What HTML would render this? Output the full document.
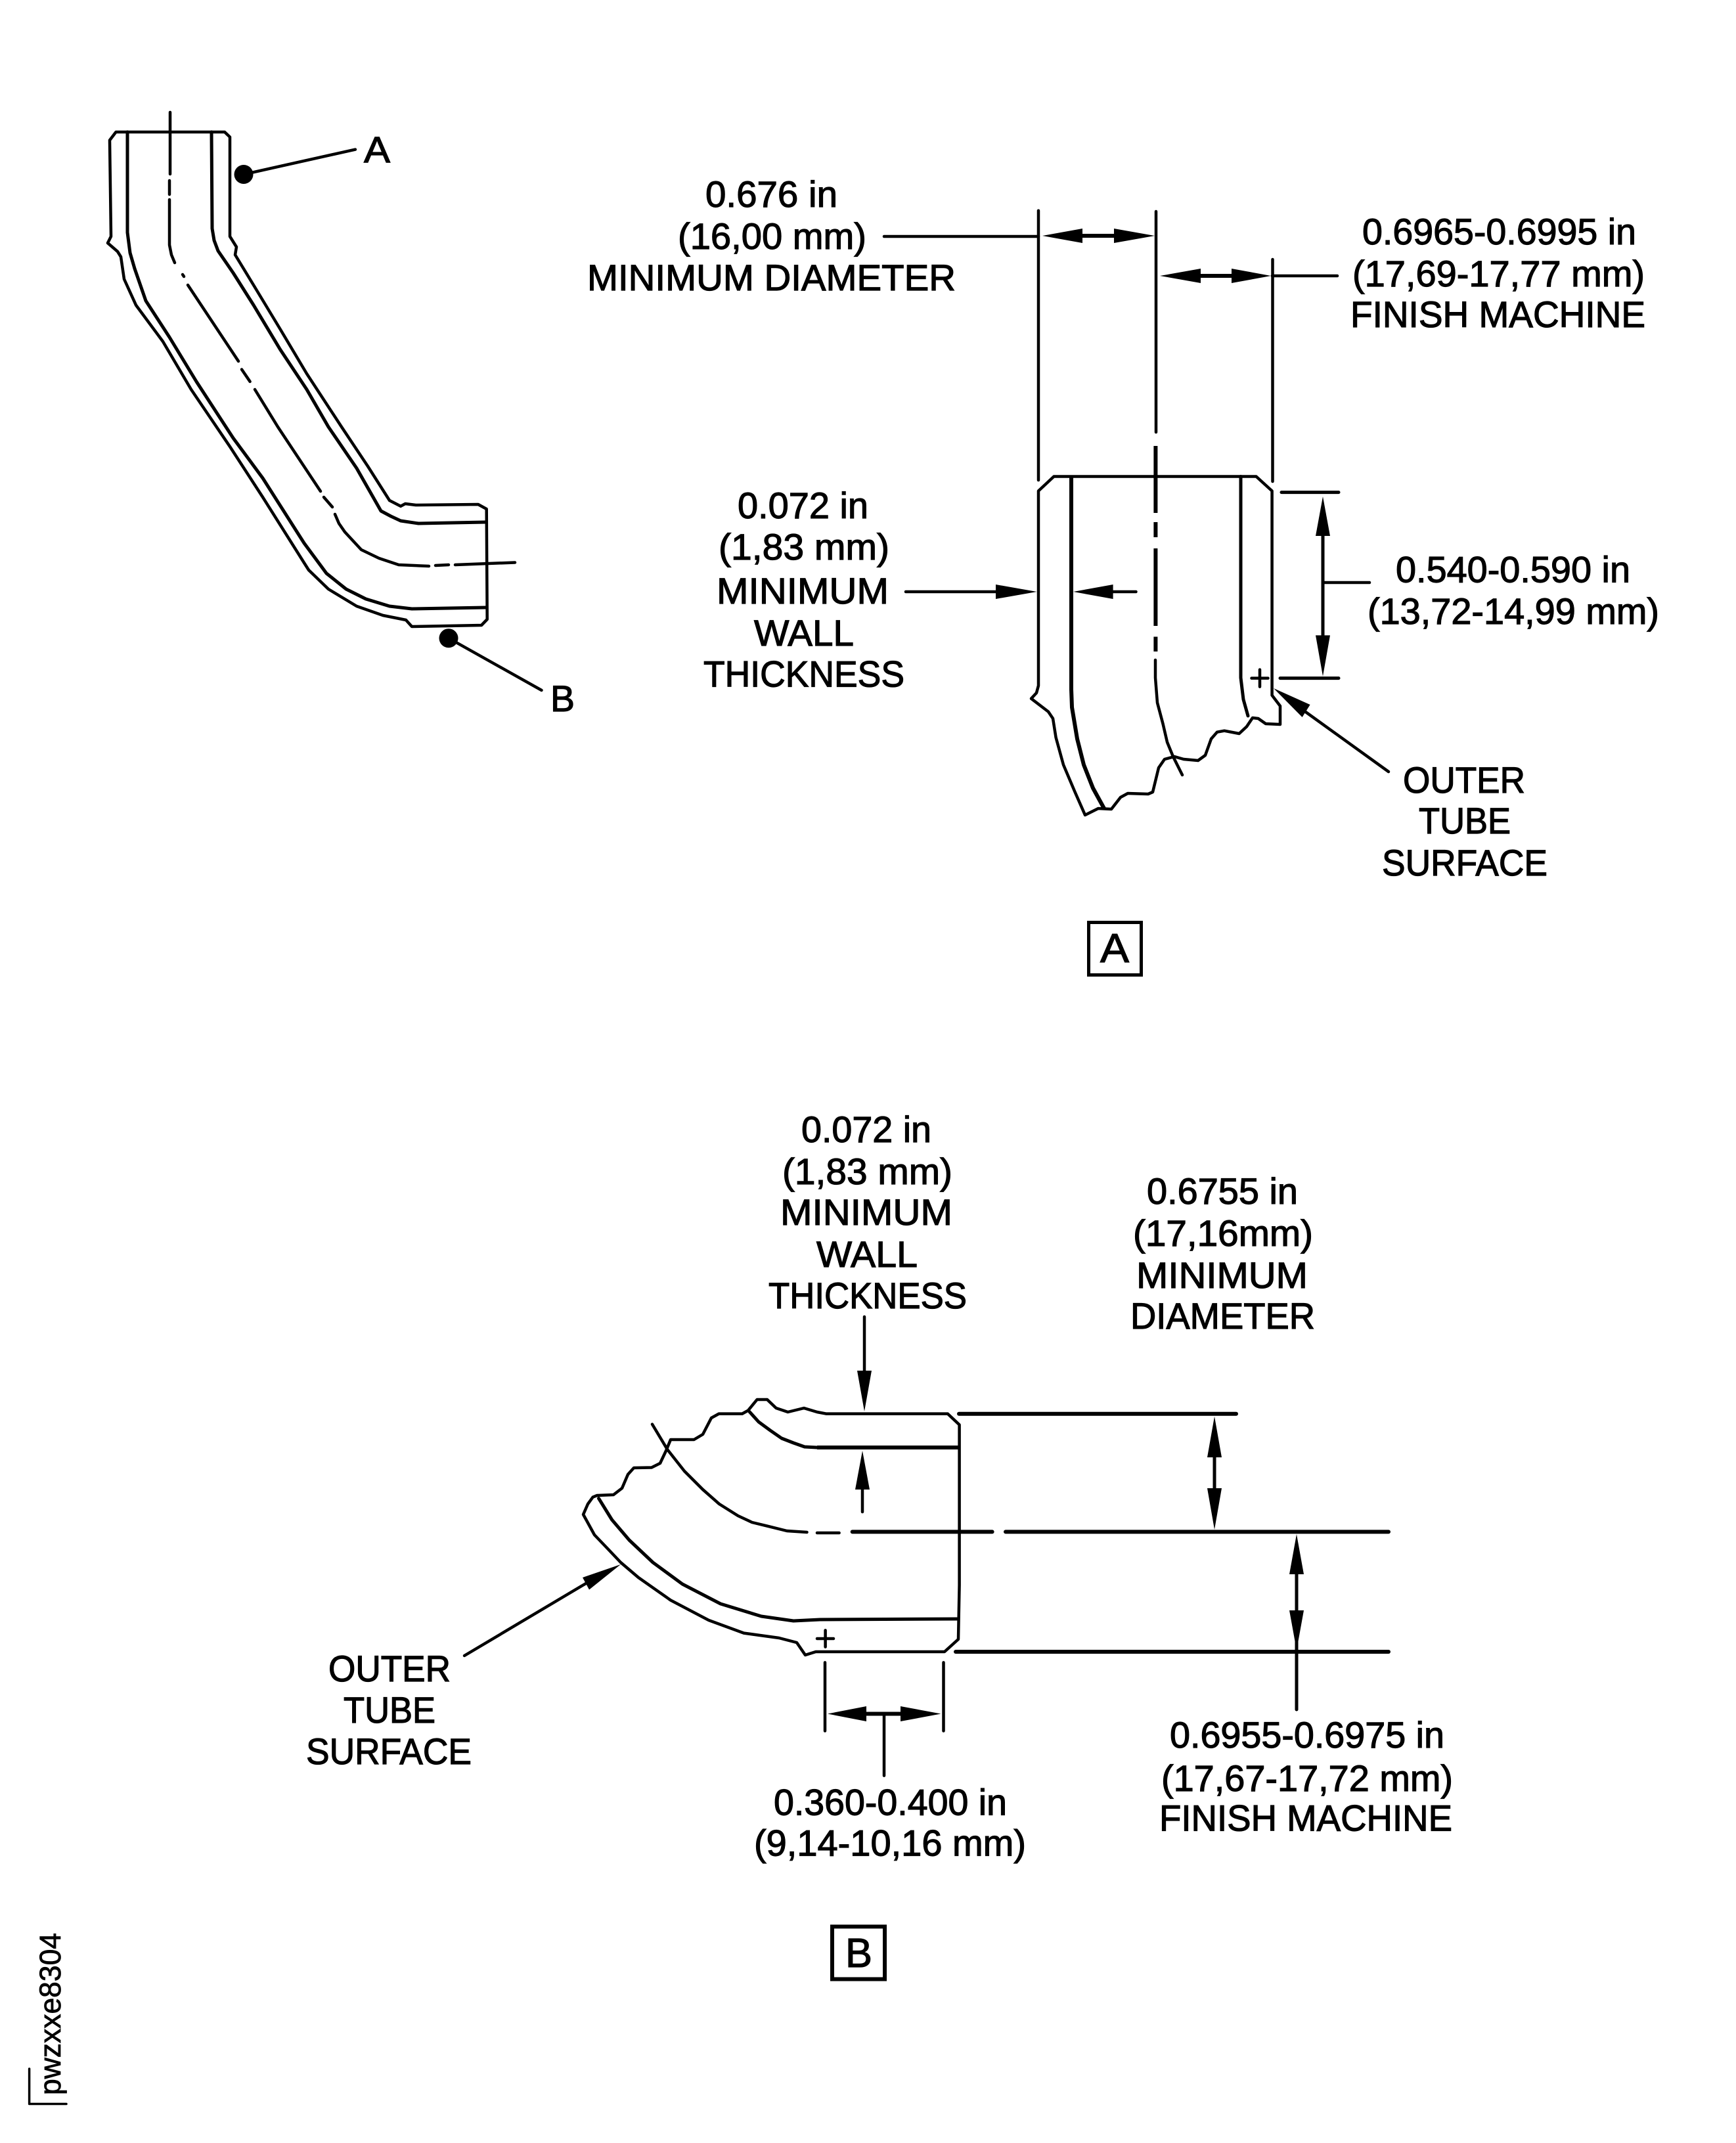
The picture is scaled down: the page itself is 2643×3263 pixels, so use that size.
<!DOCTYPE html>
<html>
<head>
<meta charset="utf-8">
<style>
html,body{margin:0;padding:0;background:#fff}
svg{display:block}
text{font-family:"Liberation Sans",sans-serif;font-size:56px;fill:#000;stroke:#000;stroke-width:1.2}
.l{fill:none;stroke:#000;stroke-width:4.5;stroke-linejoin:round;stroke-linecap:round}
.c{fill:none;stroke:#000;stroke-width:5;stroke-linejoin:round;stroke-linecap:round}
.t{fill:none;stroke:#000;stroke-width:6;stroke-linejoin:round;stroke-linecap:butt}
polygon{fill:#000}
</style>
</head>
<body>
<svg xmlns="http://www.w3.org/2000/svg" width="2643" height="3263" viewBox="0 0 2643 3263">
<rect width="2643" height="3263" fill="#fff"/>

<!-- Overview tube -->
<path class="l" d="M176.5,201 L342,201 L350,208.6 L350,360 L360,376 L358,388 L386,434 L426.5,501 L467,569 L520,650 L560,710 L593,762 L610,770.7 L617,767 L633,769 L728,768 L740.7,775 L741.7,943 L733,952 L627,954 L618,944 L583,937 L543,923 L500,897 L470,868 L463,857 L400,757 L350,680 L291,593 L248,520 L207,464.6 L189,425 L184,391 L179,383 L164,370 L169,360 L167,213.5 Z"/>
<path class="c" d="M194,201 L194,354 L198,385 L205,409 L222,458 L258,513.5 L299,581 L355,667 L400,728 L463,827 L497,873 L527,897 L557,912 L593,923 L627,927 L740,925"/>
<path class="c" d="M322,201 L323,348 L326,366 L332,382 L355,415.5 L386,464.5 L426.5,532 L467,593 L500,650 L543,713 L580,778 L595,786 L610,793 L637,797 L740,795"/>
<path class="l" d="M259,171 L259,265 M258,275 L258,296 M258,304 L258,373 L261,388 L266,400"/>
<path class="l" d="M278,418 L280,421 M286,434 L363,550 M368,562.5 L380.6,581 M388,593 L423,650 L488,748 M493,757 L506,772"/>
<path class="l" d="M510,783 L516,797 L525,810 L550,837 L577,850 L607,860 L653,862 M663,861 L683,860 M693,860 L784,856.5"/>
<circle cx="371" cy="265.5" r="14.5"/>
<line class="l" x1="371" y1="265.5" x2="541" y2="227.6"/>
<circle cx="683" cy="971.7" r="14.5"/>
<line class="l" x1="683" y1="971.7" x2="824.5" y2="1051"/>
<text x="554" y="247" textLength="40" lengthAdjust="spacingAndGlyphs">A</text>
<text x="838" y="1083" textLength="37" lengthAdjust="spacingAndGlyphs">B</text>

<!-- Detail A -->
<path class="l" d="M1604.5,725.5 L1912.5,725.5 L1936.6,747.5 L1936.6,1058.7 L1949,1075 L1949,1103 L1927,1102 L1915.6,1094 L1907,1093 L1898,1106.4 L1886.6,1117 L1864,1112.7 L1853,1114.7 L1844,1125 L1835,1150 L1824,1158 L1802,1156 L1788,1152 L1773,1156 L1764,1169 L1755,1206 L1748,1209 L1717,1208 L1706,1214 L1692,1232 L1672,1231 L1652,1241 L1636.6,1206 L1619,1164.5 L1607.6,1123 L1603,1094 L1596,1083.6 L1570,1063.7 L1578,1055 L1581,1044 L1581,747.5 Z"/>
<path class="t" d="M1631,725.5 L1631,1023.5 L1631,1050 L1632,1077 L1640,1125 L1650,1164.5 L1664,1200 L1681,1231"/>
<path class="c" d="M1889,725.5 L1889,1032 L1893,1065 L1900,1090"/>
<path class="l" style="stroke-width:6;stroke-linecap:butt" d="M1759.4,679 V781 M1759.4,795 V818 M1759.4,835 V953 M1759.4,969.5 V992"/>
<path class="l" d="M1759,1005 V1032 L1762,1070 L1770.5,1102 L1777,1130 L1786,1152 L1800,1180"/>
<path class="l" d="M1918,1019.6 V1045.6 M1905.5,1032.6 H1930.5"/>
<line class="l" x1="1581" y1="320.7" x2="1581" y2="731"/>
<line class="l" x1="1937.5" y1="395" x2="1937.5" y2="733"/>
<line class="l" x1="1760" y1="322" x2="1760" y2="658"/>
<line class="l" x1="1346" y1="360" x2="1581" y2="360"/>
<line class="l" style="stroke-width:6" x1="1640" y1="359" x2="1700" y2="359"/>
<polygon points="1587,359 1648,348 1648,370"/>
<polygon points="1758,359 1696,348 1696,370"/>
<line class="l" x1="1937" y1="420" x2="2036" y2="420"/>
<line class="l" style="stroke-width:6" x1="1820" y1="420" x2="1880" y2="420"/>
<polygon points="1766,420 1828,409 1828,431"/>
<polygon points="1935,420 1875,409 1875,431"/>
<line class="l" x1="1379" y1="901" x2="1520" y2="901"/>
<polygon points="1578.6,901 1516,890 1516,912"/>
<line class="l" x1="1690" y1="901" x2="1729.5" y2="901"/>
<polygon points="1634,901 1694.6,890 1694.6,912"/>
<line class="l" style="stroke-width:5" x1="1951" y1="749.6" x2="2038" y2="749.6"/>
<line class="l" style="stroke-width:5" x1="1949" y1="1032.6" x2="2038" y2="1032.6"/>
<line class="l" style="stroke-width:5" x1="2014" y1="810" x2="2014" y2="975"/>
<polygon points="2014,756 2003,816 2025,816"/>
<polygon points="2014,1029.7 2003,967.4 2025,967.4"/>
<line class="l" x1="2014" y1="887" x2="2085" y2="887"/>
<line class="l" x1="1985" y1="1082" x2="2114" y2="1175"/>
<polygon points="1939,1048 1994.6,1073 1982.6,1092"/>

<text x="1074" y="315" textLength="201" lengthAdjust="spacingAndGlyphs">0.676 in</text>
<text x="1032" y="379" textLength="287" lengthAdjust="spacingAndGlyphs">(16,00 mm)</text>
<text x="894" y="442" textLength="561" lengthAdjust="spacingAndGlyphs">MINIMUM DIAMETER</text>
<text x="2074" y="372" textLength="417" lengthAdjust="spacingAndGlyphs">0.6965-0.6995 in</text>
<text x="2059" y="436" textLength="445" lengthAdjust="spacingAndGlyphs">(17,69-17,77 mm)</text>
<text x="2056" y="498" textLength="449" lengthAdjust="spacingAndGlyphs">FINISH MACHINE</text>
<text x="1123" y="789" textLength="199" lengthAdjust="spacingAndGlyphs">0.072 in</text>
<text x="1094" y="852" textLength="260" lengthAdjust="spacingAndGlyphs">(1,83 mm)</text>
<text x="1091" y="919" textLength="262" lengthAdjust="spacingAndGlyphs">MINIMUM</text>
<text x="1148" y="983" textLength="152" lengthAdjust="spacingAndGlyphs">WALL</text>
<text x="1071" y="1045.5" textLength="306" lengthAdjust="spacingAndGlyphs">THICKNESS</text>
<text x="2125" y="886.5" textLength="357" lengthAdjust="spacingAndGlyphs">0.540-0.590 in</text>
<text x="2082" y="950" textLength="444" lengthAdjust="spacingAndGlyphs">(13,72-14,99 mm)</text>
<text x="2136" y="1207" textLength="186" lengthAdjust="spacingAndGlyphs">OUTER</text>
<text x="2160" y="1269" textLength="140" lengthAdjust="spacingAndGlyphs">TUBE</text>
<text x="2104" y="1333" textLength="252" lengthAdjust="spacingAndGlyphs">SURFACE</text>
<rect x="1657.5" y="1404.5" width="80" height="80" fill="none" stroke="#000" stroke-width="5"/>
<text x="1675" y="1465" textLength="44" lengthAdjust="spacingAndGlyphs" style="font-size:62px">A</text>

<!-- Detail B -->
<path class="l" d="M1442.8,2152.6 L1460.6,2169.4 L1460.6,2413.6 L1459,2496 L1438,2515 L1242,2515 L1226,2520 L1213,2501 L1186,2494 L1132.5,2486.6 L1079,2467 L1021,2436.5 L972,2402 L945,2379 L927,2360 L905,2337 L888,2306 L895,2290 L902.6,2279.6 L909,2277 L934,2276 L947,2266 L956,2245 L965,2235 L992,2234.5 L1005,2228 L1014,2209 L1021,2192 L1056.6,2192 L1070,2184 L1083,2159 L1094.5,2152.6 L1130,2152.6 L1139,2147.6 L1152.6,2131 L1168,2131 L1181.6,2144 L1199.5,2150 L1224,2144 L1244,2150 L1257.5,2152.6 Z"/>
<path class="c" d="M1141,2149.5 L1155,2165 L1172.7,2178 L1190,2190 L1208,2197 L1225,2203 L1244,2204"/>
<line class="t" x1="1244" y1="2204" x2="1460.6" y2="2204"/>
<path class="l" d="M993,2168.6 L1016,2207 L1042,2240 L1070,2268 L1095,2290 L1123.6,2308 L1145,2318 L1168,2323.6 L1198,2331 L1228.5,2333 M1244,2334 H1277.6"/>
<line class="l" style="stroke-width:6" x1="1297.7" y1="2332.4" x2="1510.6" y2="2332.4"/>
<line class="l" style="stroke-width:6" x1="1531" y1="2332.4" x2="2114" y2="2332.4"/>
<path class="c" d="M911.5,2281.5 L931.6,2314 L958,2345 L994,2379 L1039,2412 L1097,2442 L1159,2461 L1208,2468 L1248.6,2466 L1458,2465"/>
<path class="l" d="M1256.6,2482.4 V2507.6 M1244,2495 H1269"/>
<line class="l" style="stroke-width:6" x1="1460" y1="2152.7" x2="1882" y2="2152.7"/>
<line class="l" style="stroke-width:6" x1="1455" y1="2515" x2="2114" y2="2515"/>
<line class="l" style="stroke-width:5" x1="1849" y1="2210" x2="1849" y2="2275"/>
<polygon points="1849,2156.7 1838,2219 1860,2219"/>
<polygon points="1849,2329 1838,2266 1860,2266"/>
<line class="l" style="stroke-width:5" x1="1974" y1="2390" x2="1974" y2="2603"/>
<polygon points="1974,2336 1963,2397 1985,2397"/>
<polygon points="1974,2512.7 1963,2452 1985,2452"/>
<line class="l" x1="1316" y1="2005" x2="1316" y2="2095"/>
<polygon points="1316,2149 1305,2087 1327,2087"/>
<line class="l" x1="1313" y1="2260" x2="1313" y2="2302"/>
<polygon points="1313,2209 1302,2268 1324,2268"/>
<line class="l" x1="892" y1="2411" x2="707" y2="2521"/>
<polygon points="945,2382 887,2402 897,2420.5"/>
<line class="l" x1="1256" y1="2531.4" x2="1256" y2="2635.5"/>
<line class="l" x1="1436.5" y1="2531.4" x2="1436.5" y2="2635.5"/>
<line class="l" style="stroke-width:6" x1="1310" y1="2609.5" x2="1380" y2="2609.5"/>
<polygon points="1260,2609.5 1319,2598 1319,2621"/>
<polygon points="1432.5,2609.5 1371,2598 1371,2621"/>
<line class="l" x1="1346" y1="2609.5" x2="1346" y2="2703.6"/>

<text x="1220" y="1739" textLength="198" lengthAdjust="spacingAndGlyphs">0.072 in</text>
<text x="1191" y="1803" textLength="259" lengthAdjust="spacingAndGlyphs">(1,83 mm)</text>
<text x="1188" y="1865" textLength="262" lengthAdjust="spacingAndGlyphs">MINIMUM</text>
<text x="1243" y="1929" textLength="154" lengthAdjust="spacingAndGlyphs">WALL</text>
<text x="1170" y="1992" textLength="302" lengthAdjust="spacingAndGlyphs">THICKNESS</text>
<text x="1746" y="1833" textLength="230" lengthAdjust="spacingAndGlyphs">0.6755 in</text>
<text x="1725" y="1897" textLength="274" lengthAdjust="spacingAndGlyphs">(17,16mm)</text>
<text x="1730" y="1961" textLength="261" lengthAdjust="spacingAndGlyphs">MINIMUM</text>
<text x="1721" y="2023" textLength="281" lengthAdjust="spacingAndGlyphs">DIAMETER</text>
<text x="500" y="2560" textLength="186" lengthAdjust="spacingAndGlyphs">OUTER</text>
<text x="523" y="2623" textLength="140" lengthAdjust="spacingAndGlyphs">TUBE</text>
<text x="466" y="2686" textLength="252" lengthAdjust="spacingAndGlyphs">SURFACE</text>
<text x="1178" y="2763.6" textLength="355" lengthAdjust="spacingAndGlyphs">0.360-0.400 in</text>
<text x="1148" y="2825.7" textLength="414" lengthAdjust="spacingAndGlyphs">(9,14-10,16 mm)</text>
<text x="1781" y="2661" textLength="418" lengthAdjust="spacingAndGlyphs">0.6955-0.6975 in</text>
<text x="1768" y="2727" textLength="444" lengthAdjust="spacingAndGlyphs">(17,67-17,72 mm)</text>
<text x="1765" y="2787.5" textLength="446" lengthAdjust="spacingAndGlyphs">FINISH MACHINE</text>
<rect x="1267" y="2933.5" width="80" height="80" fill="none" stroke="#000" stroke-width="6"/>
<text x="1287" y="2995" textLength="41" lengthAdjust="spacingAndGlyphs" style="font-size:62px">B</text>

<!-- Figure ID -->
<text transform="translate(92,3190) rotate(-90)" style="font-size:45px;stroke-width:.8" textLength="247" lengthAdjust="spacingAndGlyphs">pwzxxe8304</text>
<path class="l" style="stroke-width:3.5" d="M44.6,3150 V3203.5 H101"/>
</svg>
</body>
</html>
